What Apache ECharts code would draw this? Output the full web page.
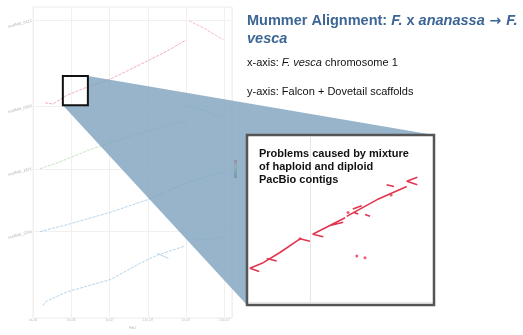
<!DOCTYPE html>
<html><head><meta charset="utf-8">
<script src="https://cdn.jsdelivr.net/npm/echarts@6/dist/echarts.min.js"></script>
<style>html,body{margin:0;padding:0;background:#fff}#c{width:523px;height:335px}</style>
</head><body><div id="c"></div>
<script>
// ---- main dot plot (x: F. vesca chr1 position, Mb; y: scaffold coordinate, Mb) ----
const xTicks = [0, 5, 10, 15, 20, 25];
const xTickLabels = ['0e+00', '5e+06', '1e+07', '1.5e+07', '2e+07', '2.5e+07'];
const scaffoldBounds = [13.9, 24.0, 34.1, 47.8];
const scaffoldNames = ['scaffold_2204', 'scaffold_1871', 'scaffold_0963', 'scaffold_0412'];

const redMain = [[1.6, 34.6], [2.6, 34.4], [4.4, 35.8], [7.2, 37.2], [10.1, 38.4], [14.9, 41.3], [17.5, 42.9], [20.0, 44.7]];
const redTail = [[20.4, 47.8], [22.6, 46.4], [24.9, 44.7]];
const greenMain = [[0.9, 24.0], [3.5, 25.1], [7.5, 27.1], [14.4, 29.9], [19.9, 31.7]];
const greenTail = [[20.2, 34.1], [22.5, 33.3], [24.7, 32.2]];
const blueMid = [[0.9, 13.9], [4.4, 15.0], [10.1, 17.0], [14.9, 19.0], [19.9, 21.7], [22.3, 22.6], [24.7, 23.5]];
const blueLow = [[1.3, 2.0], [1.6, 2.6], [4.4, 4.2], [10.1, 6.2], [12.2, 7.6], [14.0, 8.8], [16.2, 10.1], [19.9, 11.6]];
const blueLowBranch = [[16.2, 10.4], [17.7, 9.6]];
const blueLowTail = [[21.0, 12.8], [22.8, 12.6], [24.6, 13.0]];

// zoomed window (same units as the main plot)
const zoomX = [3.9, 7.17];
const zoomY = [34.2, 38.9];
const insetXTicks = [5];

// ---- inset alignments (segments separated by null) ----
const insetRed = [
  [4.155, 35.32], [3.916, 35.16], [4.083, 35.07], null,
  [4.155, 35.32], [4.453, 35.61], [4.812, 36.0], [4.989, 35.93], null,
  [4.217, 35.44], [4.394, 35.37], null,
  [5.228, 36.06], [5.038, 36.13], [5.617, 36.60], null,
  [5.349, 36.38], [5.584, 36.47], null,
  [5.646, 36.64], [6.182, 37.11], null,
  [5.754, 36.85], [5.914, 36.94], null,
  [5.764, 36.76], [5.852, 36.71], null,
  [5.973, 36.69], [6.062, 36.64], null,
  [6.182, 37.11], [6.719, 37.49], null,
  [6.359, 37.54], [6.490, 37.49], null,
  [6.908, 37.75], [6.719, 37.64], [6.908, 37.54]
];
const insetDots = [[4.812, 36.0], [5.826, 35.51], [5.973, 35.46], [5.67, 36.75], [6.44, 37.25]];

const titleLine1 = ['Mummer Alignment: ', 'F.', ' x ', 'ananassa', ' \u2192 ', 'F.'];
const titleLine2 = 'vesca';
const xNote = ['x-axis: ', 'F. vesca', ' chromosome 1'];
const yNote = 'y-axis: Falcon + Dovetail scaffolds';
const insetNote = ['Problems caused by mixture', 'of haploid and diploid', 'PacBio contigs'];

const FONT = '"Liberation Sans", Arial, sans-serif';
const chart = echarts.init(document.getElementById('c'), null, {renderer: 'canvas'});

function seg(data, color, dashed) {
  return {type: 'line', data: data, xAxisIndex: 0, yAxisIndex: 0, showSymbol: false, silent: true,
    lineStyle: {color: color, width: 0.9, opacity: 0.85, type: dashed ? [3, 1.2] : 'solid'}, z: 2};
}

chart.setOption({
  animation: false,
  backgroundColor: '#fff',
  grid: [
    {left: 33, top: 7, width: 199, height: 323, show: true, borderColor: '#ececec', borderWidth: 1, backgroundColor: '#fff'},
    {left: 249, top: 137, width: 183, height: 165, show: true, borderColor: 'transparent', borderWidth: 0, backgroundColor: '#fff'}
  ],
  xAxis: [
    {type: 'value', gridIndex: 0, min: 0, max: 26, interval: 5,
      axisLine: {show: false}, axisTick: {show: false},
      splitLine: {lineStyle: {color: '#f0f0f0', width: 1}},
      axisLabel: {fontSize: 3, color: '#bbb', margin: 1, formatter: v => xTickLabels[xTicks.indexOf(v)] || ''},
      name: 'Fvb1', nameLocation: 'middle', nameGap: 2, nameTextStyle: {fontSize: 3, color: '#aaa'}},
    {type: 'value', gridIndex: 1, min: zoomX[0], max: zoomX[1],
      axisLine: {show: true, lineStyle: {color: '#e6e6e6'}}, axisTick: {show: false, customValues: insetXTicks},
      splitLine: {show: true, lineStyle: {color: '#e6e6e6'}},
      axisLabel: {show: false, customValues: insetXTicks}}
  ],
  yAxis: [
    {type: 'value', gridIndex: 0, min: 0, max: 50,
      axisLine: {show: false}, axisTick: {show: false, customValues: scaffoldBounds},
      splitLine: {show: true, lineStyle: {color: '#f0f0f0'}},
      axisLabel: {customValues: scaffoldBounds, fontSize: 4, color: '#b4b4b4', rotate: 14, margin: 1,
        formatter: v => scaffoldNames[scaffoldBounds.indexOf(v)] || ''}},
    {type: 'value', gridIndex: 1, min: zoomY[0], max: zoomY[1],
      axisLine: {show: false}, axisTick: {show: false}, splitLine: {show: false}, axisLabel: {show: false}}
  ],
  series: [
    seg(redMain, '#ec93a1', true),
    seg(redTail, '#efa8b2', true),
    seg(greenMain, '#b2dbac', true),
    seg(greenTail, '#b2dbac', true),
    seg(blueMid, '#9cc6e5', true),
    seg(blueLow, '#9cc6e5', true),
    seg(blueLowBranch, '#9cc6e5', false),
    seg(blueLowTail, '#9cc6e5', true),
    {type: 'line', xAxisIndex: 1, yAxisIndex: 1, data: insetRed, connectNulls: false, showSymbol: false,
      lineStyle: {color: '#e2364f', width: 1.6}, z: 20, silent: true},
    {type: 'scatter', xAxisIndex: 1, yAxisIndex: 1, data: insetDots, symbolSize: 3,
      itemStyle: {color: '#e2364f'}, z: 20, silent: true}
  ]
});

// connector geometry from the zoom window and the inset grid
const sTL = chart.convertToPixel({gridIndex: 0}, [zoomX[0], zoomY[1]]);
const sBR = chart.convertToPixel({gridIndex: 0}, [zoomX[1], zoomY[0]]);
const iTL = chart.convertToPixel({gridIndex: 1}, [zoomX[0], zoomY[1]]);
const iBR = chart.convertToPixel({gridIndex: 1}, [zoomX[1], zoomY[0]]);
const bL = iTL[0] - 2, bT = iTL[1] - 2, bR = iBR[0] + 2, bB = iBR[1] + 3;

const BLUE = '#3d6694';
const rich = {
  b: {fontFamily: FONT, fontSize: 14.5, fontWeight: 'bold', fill: BLUE},
  bi: {fontFamily: FONT, fontSize: 14.5, fontWeight: 'bold', fontStyle: 'italic', fill: BLUE},
  ar: {fontFamily: '"DejaVu Sans", sans-serif', fontSize: 14, fontWeight: 'bold', fill: BLUE},
  n: {fontFamily: FONT, fontSize: 11, fill: '#111'},
  ni: {fontFamily: FONT, fontSize: 11, fontStyle: 'italic', fill: '#111'}
};

chart.setOption({
  graphic: [
    {type: 'rect', shape: {x: 234, y: 160, width: 3, height: 18}, z: 5, silent: true,
      style: {fill: new echarts.graphic.LinearGradient(0, 0, 0, 1, [
        {offset: 0, color: '#d73027'}, {offset: 0.35, color: '#fee08b'}, {offset: 0.65, color: '#66bd63'}, {offset: 1, color: '#4575b4'}])}},
    {type: 'polygon', z: 50, silent: true,
      shape: {points: [[sBR[0], sTL[1]], [bR, bT], [bL, bT], [bL, bB], [sTL[0], sBR[1]], [sBR[0], sBR[1]]]},
      style: {fill: 'rgba(128,163,190,0.82)'}},
    {type: 'rect', z: 60, silent: true,
      shape: {x: sTL[0], y: sTL[1], width: sBR[0] - sTL[0], height: sBR[1] - sTL[1]},
      style: {fill: null, stroke: '#111', lineWidth: 2}},
    {type: 'rect', z: 60, silent: true,
      shape: {x: bL, y: bT, width: bR - bL, height: bB - bT},
      style: {fill: null, stroke: '#555', lineWidth: 2.5}},
    {type: 'text', z: 70, left: 259, top: 147, silent: true,
      style: {text: insetNote.join('\n'), font: 'bold 11px ' + FONT, fill: '#111', lineHeight: 13}},
    {type: 'text', z: 70, left: 247, top: 12, silent: true,
      style: {text: '{b|' + titleLine1[0] + '}{bi|' + titleLine1[1] + '}{b|' + titleLine1[2] + '}{bi|' + titleLine1[3] + '}{ar|' + titleLine1[4] + '}{bi|' + titleLine1[5] + '}\n{bi|' + titleLine2 + '}',
        rich: rich, lineHeight: 18}},
    {type: 'text', z: 70, left: 247, top: 57, silent: true,
      style: {text: '{n|' + xNote[0] + '}{ni|' + xNote[1] + '}{n|' + xNote[2] + '}', rich: rich}},
    {type: 'text', z: 70, left: 247, top: 86, silent: true,
      style: {text: '{n|' + yNote + '}', rich: rich}}
  ]
});
</script>
</body></html>
